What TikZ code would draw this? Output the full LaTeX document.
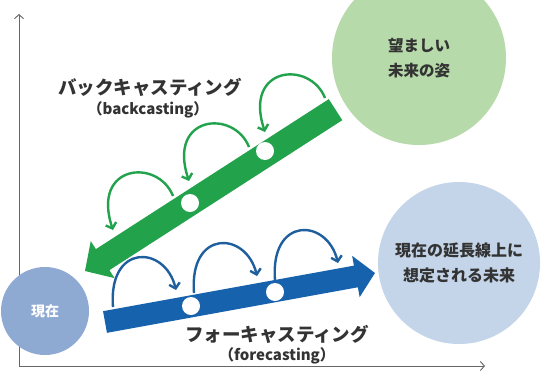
\documentclass[tikz,border=0pt]{standalone}
\usepackage{fontspec}
\setmainfont{Noto Sans CJK JP}
\usetikzlibrary{arrows.meta}
\definecolor{bandgreen}{HTML}{21A24B}
\definecolor{arcgreen}{HTML}{22A24C}
\definecolor{bandblue}{HTML}{1762AD}
\definecolor{arcblue}{HTML}{1F5F9E}
\definecolor{goalgreen}{HTML}{B6DAA9}
\definecolor{futureblue}{HTML}{C4D4E9}
\definecolor{nowblue}{HTML}{8EA9D2}
\definecolor{txt}{HTML}{333333}
\definecolor{axisgray}{HTML}{666666}
\begin{document}
\begin{tikzpicture}[x=1pt,y=1pt,
  bubble/.style={circle,inner sep=0pt,align=center,text=txt},
  whitedot/.style={circle,fill=white,inner sep=0pt,minimum size=18pt},
  hopgreen/.style={draw=arcgreen,line width=2.4pt,-{Straight Barb[length=5pt,width=11pt]}},
  hopblue/.style={draw=arcblue,line width=2.4pt,-{Straight Barb[length=5pt,width=11pt]}},
  axisline/.style={draw=axisgray,line width=0.9pt},
  bigtitle/.style={text=txt,inner sep=0pt,font=\fontsize{18.5}{20}\selectfont\bfseries},
  subtitle/.style={text=txt,inner sep=0pt,font=\fontsize{15}{17}\selectfont\bfseries}]
\useasboundingbox (0,0) rectangle (545,-372);
\fill[white] (0,0) rectangle (545,-372);
% axes
\coordinate (ytop) at (19,-14);
\coordinate (xend) at (485,-366);
\draw[axisline,{Straight Barb[length=4pt,width=9pt]}-{Straight Barb[length=4pt,width=9pt]}] (ytop) |- (xend);
% circles
\node[bubble,fill=goalgreen,minimum size=174pt,font=\fontsize{15.5}{25}\selectfont\bfseries] (goal) at (419,-58) {望ましい\\未来の姿};
\node[bubble,fill=futureblue,minimum size=162pt,font=\fontsize{16}{25}\selectfont\bfseries] (future) at (459,-263) {現在の延長線上に\\想定される未来};
\node[bubble,fill=nowblue,minimum size=88pt,text=white,font=\fontsize{14}{16}\selectfont\bfseries] (now) at (45,-311) {現在};
% green band (backcasting)
\begin{scope}[shift={(85,-271)},rotate=32.78]
\fill[bandgreen] (0,0) -- (21,22) -- (21,12.5) -- (298,12.5) -- (298,-12.5) -- (21,-12.5) -- (21,-22) -- cycle;
\end{scope}
% blue band (forecasting)
\begin{scope}[shift={(105,-322)},rotate=10.29]
\fill[bandblue] (0,-11) -- (255,-11) -- (255,-21) -- (274.4,0) -- (255,21) -- (255,11) -- (0,11) -- cycle;
\end{scope}
% white dots
\node[whitedot] (g1) at (265,-151) {};
\node[whitedot] (g2) at (190,-203) {};
\node[whitedot] (b1) at (191,-306) {};
\node[whitedot] (b2) at (275,-292) {};
% hop arrows
\foreach \sx/\sy in {325/-98, 249/-147, 173/-196} {
  \begin{scope}[shift={(\sx,\sy)}]
  \draw[hopgreen] (0,0) .. controls (-15,38) and (-82,32) .. (-60,-34);
  \end{scope}
}
\foreach \sx/\sy in {113/-307, 194/-293, 275/-280} {
  \begin{scope}[shift={(\sx,\sy)}]
  \draw[hopblue] (0,0) .. controls (-5,64) and (52,62) .. (63,17);
  \end{scope}
}
% labels
\node[bigtitle] (bclabel) at (150,-87) {バックキャスティング};
\node[subtitle] (bcsub) at (148,-110) {（backcasting）};
\node[bigtitle] (fclabel) at (277,-334) {フォーキャスティング};
\node[subtitle] (fcsub) at (277,-356) {（forecasting）};
\end{tikzpicture}
\end{document}
